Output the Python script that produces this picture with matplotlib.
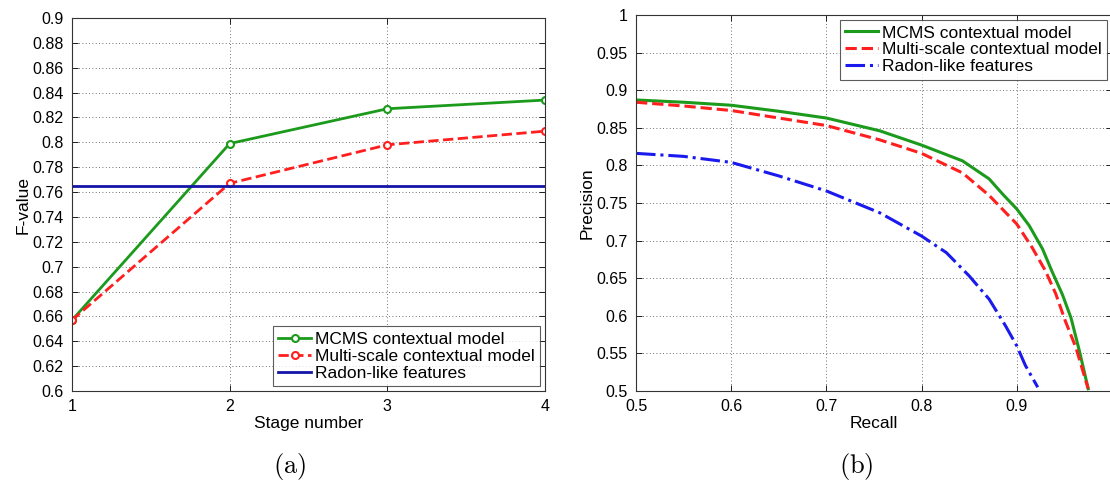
import matplotlib
matplotlib.use('Agg')
import matplotlib.pyplot as plt
import numpy as np

plt.rcParams['font.family'] = ['Liberation Sans', 'DejaVu Sans']
plt.rcParams['mathtext.fontset'] = 'cm'

# (a) F-value per stage
stages = [1, 2, 3, 4]
f_mcms = [0.657, 0.799, 0.827, 0.834]
f_multi = [0.657, 0.767, 0.798, 0.809]
f_radon = 0.765

# (b) precision / recall curves
rec_mcms = [0.5, 0.55, 0.6, 0.65, 0.7, 0.756, 0.8, 0.843, 0.871, 0.885, 0.9, 0.913,
            0.927, 0.937, 0.948, 0.957, 0.966, 0.975]
prec_mcms = [0.887, 0.884, 0.880, 0.872, 0.863, 0.846, 0.827, 0.806, 0.782, 0.762,
             0.742, 0.720, 0.689, 0.659, 0.628, 0.597, 0.552, 0.503]
rec_multi = [0.5, 0.55, 0.6, 0.65, 0.7, 0.756, 0.8, 0.843, 0.871, 0.9, 0.916, 0.930,
             0.941, 0.951, 0.962, 0.975]
prec_multi = [0.884, 0.879, 0.873, 0.863, 0.853, 0.834, 0.816, 0.790, 0.760, 0.722,
              0.691, 0.660, 0.629, 0.593, 0.558, 0.503]
rec_radon = [0.5, 0.55, 0.6, 0.65, 0.7, 0.756, 0.8, 0.826, 0.85, 0.871, 0.888, 0.9,
             0.909, 0.922]
prec_radon = [0.816, 0.812, 0.804, 0.786, 0.766, 0.737, 0.706, 0.684, 0.653, 0.622,
              0.587, 0.560, 0.534, 0.505]

labels = ['MCMS contextual model', 'Multi-scale contextual model', 'Radon-like features']

GREEN = '#1c9a1c'
RED = '#ff1f1f'
BLUE_A = '#1414a8'
BLUE_B = '#1a1aee'


def fmt(v):
    return ('%.2f' % v).rstrip('0').rstrip('.')


def style(ax):
    ax.tick_params(direction='in', top=True, right=True, length=4, width=0.6,
                   labelsize=11.5, pad=6)
    ax.grid(True, color='#444444', linestyle=(0, (1, 3)), linewidth=0.6)
    for sp in ax.spines.values():
        sp.set_linewidth(0.8)
        sp.set_color('#333333')


def legend(ax, loc):
    leg = ax.legend(loc=loc, fontsize=12.5, frameon=True, fancybox=False,
                    borderaxespad=0.3, handlelength=1.9, handletextpad=0.2,
                    labelspacing=0.1, borderpad=0.3)
    leg.get_frame().set_edgecolor('#333333')
    leg.get_frame().set_linewidth(0.8)
    return leg


fig = plt.figure(figsize=(11.1, 4.8), dpi=100)
W, H = 1110.0, 480.0

# left panel
ax1 = fig.add_axes([72 / W, 89 / H, (545 - 72) / W, (391 - 18) / H])
ax1.plot(stages, f_mcms, '-o', color=GREEN, lw=2, ms=5, mfc='white', mew=1.5,
         label=labels[0])
ax1.plot(stages, f_multi, '--o', color=RED, lw=2, ms=5, mfc='white', mew=1.5,
         label=labels[1])
ax1.axhline(f_radon, color=BLUE_A, lw=2, label=labels[2])
ax1.set_xlim(1, 4)
ax1.set_ylim(0.6, 0.9)
ax1.set_xticks(stages)
yt = np.round(np.arange(0.6, 0.9001, 0.02), 2)
ax1.set_yticks(yt)
ax1.set_yticklabels([fmt(v) for v in yt])
ax1.set_xlabel('Stage number', fontsize=12.5, labelpad=1)
ax1.set_ylabel('F-value', fontsize=12.5, labelpad=1)
style(ax1)
legend(ax1, 'lower right')

# right panel
ax2 = fig.add_axes([636 / W, 89 / H, (1112 - 636) / W, (391 - 15) / H])
ax2.plot(rec_mcms, prec_mcms, '-', color=GREEN, lw=2.2, label=labels[0])
ax2.plot(rec_multi, prec_multi, '--', color=RED, lw=2.2, label=labels[1])
ax2.plot(rec_radon, prec_radon, '-.', color=BLUE_B, lw=2.2, label=labels[2])
ax2.set_xlim(0.5, 1.0)
ax2.set_ylim(0.5, 1.0)
xt = np.round(np.arange(0.5, 1.0001, 0.1), 2)
ax2.set_xticks(xt)
ax2.set_xticklabels([fmt(v) for v in xt[:-1]] + [''])
yt2 = np.round(np.arange(0.5, 1.0001, 0.05), 2)
ax2.set_yticks(yt2)
ax2.set_yticklabels([fmt(v) for v in yt2])
ax2.set_xlabel('Recall', fontsize=12.5, labelpad=1)
ax2.set_ylabel('Precision', fontsize=12.5, labelpad=1)
style(ax2)
legend(ax2, 'upper right')

fig.text(290 / W, 1 - 466 / H, r'$\mathrm{(a)}$', fontsize=19,
         ha='center', va='center')
fig.text(856 / W, 1 - 466 / H, r'$\mathrm{(b)}$', fontsize=19,
         ha='center', va='center')

fig.savefig('out.png', dpi=100)
